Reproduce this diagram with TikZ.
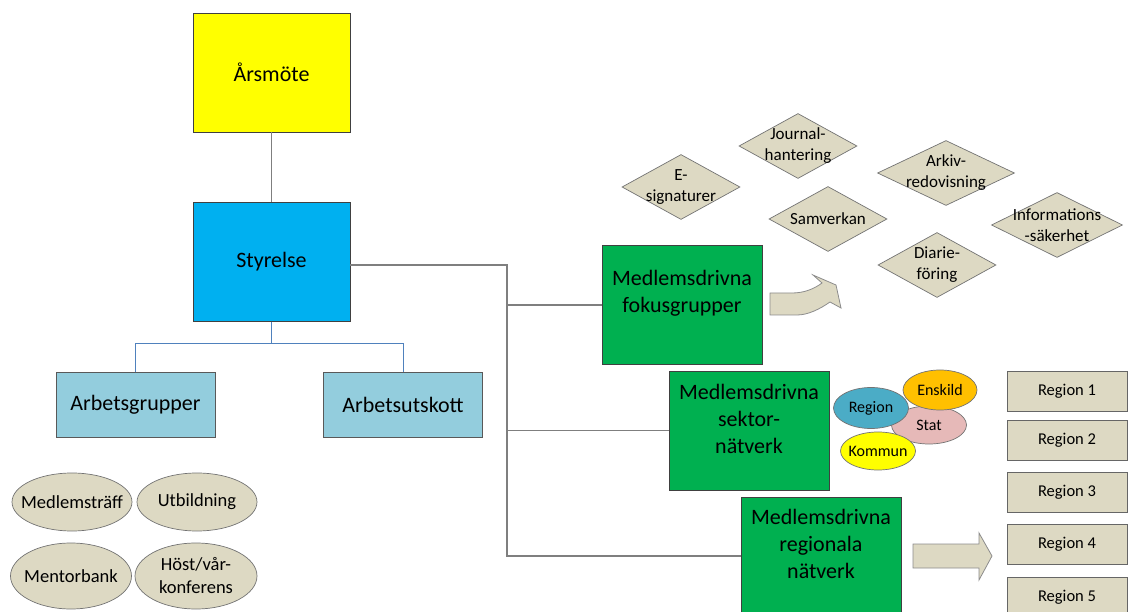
\documentclass[tikz,border=0pt]{standalone}
\usepackage{fontspec}
\setmainfont{Carlito}
\usetikzlibrary{shapes.geometric}
\definecolor{arsgul}{HTML}{FFFF00}
\definecolor{styrbla}{HTML}{00B0F0}
\definecolor{ljusbla}{HTML}{93CDDD}
\definecolor{gron}{HTML}{00B050}
\definecolor{beige}{HTML}{DDD9C3}
\definecolor{regbla}{HTML}{4BACC6}
\definecolor{orange}{HTML}{FFC000}
\definecolor{rosa}{HTML}{E6B9B8}
\definecolor{linjegra}{HTML}{7F7F7F}
\definecolor{linjebla}{HTML}{4F81BD}
\begin{document}
\begin{tikzpicture}[x=1pt, y=-1pt,
    box/.style={draw=black!75, line width=0.9pt, minimum width=157, minimum height=119, font=\fontsize{22}{27}\selectfont},
    arbbox/.style={draw=black!65, line width=0.9pt, fill=ljusbla, minimum width=159, minimum height=65, font=\fontsize{22}{26}\selectfont},
    grbox/.style={draw=black!75, line width=0.9pt, fill=gron, minimum width=160, minimum height=119},
    grtxt/.style={anchor=north, inner sep=0pt, align=center, font=\fontsize{22}{27}\selectfont},
    ruta/.style={diamond, draw=black!55, line width=0.7pt, fill=beige, inner sep=0pt, minimum height=65},
    rtxt/.style={inner sep=0pt, align=center, font=\fontsize{17}{21}\selectfont},
    oval/.style={ellipse, draw=black!55, line width=0.7pt, inner sep=0pt},
    otxt/.style={inner sep=0pt, align=center, font=\fontsize{18.5}{23}\selectfont},
    stxt/.style={inner sep=0pt, align=center, font=\fontsize{16}{20}\selectfont},
    regbox/.style={draw=black!60, line width=0.9pt, fill=beige, minimum width=120, minimum height=40, font=\fontsize{16.5}{20}\selectfont},
    pil/.style={draw=black!45, line width=0.8pt, fill=beige},
    conn/.style={draw=linjegra, line width=1.1pt},
    bconn/.style={draw=linjebla, line width=1pt}]
\useasboundingbox (0,0) rectangle (1128,612);
\clip (0,0) rectangle (1128,612);

\node[box, fill=arsgul] (arsmote) at (271.5,72.5) {Årsmöte};
\node[box, fill=styrbla] (styrelse) at (271.5,262) {Styrelse};
\node[arbbox] (arbgrp) at (135.5,404.5) {Arbetsgrupper};
\node[arbbox] (arbutsk) at (403,404.5) {Arbetsutskott};

\coordinate (spine) at (507,265);
\coordinate (gren) at (271.5,344);

\node[grbox, label={[grtxt, yshift=-25]north:Medlemsdrivna\\fokusgrupper}] (fokus) at (682,305) {};
\node[grbox, label={[grtxt, yshift=-13]north:Medlemsdrivna\\sektor-\\nätverk}] (sektor) at (749,430.5) {};
\node[grbox, minimum height=118, label={[grtxt, yshift=-12]north:Medlemsdrivna\\regionala\\nätverk}] (regnet) at (821,556) {};

\draw[conn] (arsmote) -- (styrelse);
\draw[bconn] (styrelse.south) -- (gren) -| (arbgrp.north);
\draw[bconn] (gren) -| (arbutsk.north);
\draw[conn] (styrelse.east |- spine) -- (spine) -- (spine |- regnet.west) -- (regnet.west);
\draw[conn] (spine |- fokus.west) -- (fokus.west);
\draw[conn] (spine |- sektor.west) -- (sektor.west);

\node[ruta, minimum width=118, label={[rtxt]center:E-\\signaturer}] (esign) at (681,187) {};
\node[ruta, minimum width=118, label={[rtxt]center:Journal-\\hantering}] (journal) at (798,146) {};
\node[ruta, minimum width=118, label={[rtxt]center:Samverkan}] (samverkan) at (828,219) {};
\node[ruta, minimum width=137, label={[rtxt]center:Arkiv-\\redovisning}] (arkiv) at (946,173) {};
\node[ruta, minimum width=118, label={[rtxt]center:Diarie-\\föring}] (diarie) at (937,265) {};
\node[ruta, minimum width=131, label={[rtxt]center:Informations\\-säkerhet}] (infosak) at (1057,225) {};

\draw[pil] (770,293) -- (792,293) .. controls (804,293) and (814,289) .. (822,283) -- (813,275) -- (836,285) -- (841,308) -- (830,302) .. controls (820,309) and (808,315) .. (797,315) -- (770,315) -- cycle;

\node[oval, fill=rosa, minimum width=75, minimum height=38, label={[stxt]center:Stat}] (stat) at (929,425) {};
\node[oval, fill=regbla, minimum width=75, minimum height=41, label={[stxt]center:Region}] (region) at (871,408) {};
\node[oval, fill=orange, minimum width=74, minimum height=40, label={[stxt]center:Enskild}] (enskild) at (940,390) {};
\node[oval, fill=arsgul, minimum width=75, minimum height=38, label={[stxt]center:Kommun}] (kommun) at (878,451) {};

\draw[pil] (913,544) -- (979,544) -- (979,533) -- (992,556) -- (979,580) -- (979,568) -- (913,568) -- cycle;

\node[regbox] (reg1) at (1067,391) {Region 1};
\node[regbox] (reg2) at (1067,440) {Region 2};
\node[regbox] (reg3) at (1067,492.5) {Region 3};
\node[regbox] (reg4) at (1067,544) {Region 4};
\node[regbox] (reg5) at (1067,597) {Region 5};

\node[oval, fill=beige, minimum width=120, minimum height=58, label={[otxt]center:Medlemsträff}] (medltraff) at (72,502) {};
\node[oval, fill=beige, minimum width=120, minimum height=58, label={[otxt]center:Utbildning}] (utbildning) at (197,502) {};
\node[oval, fill=beige, minimum width=121, minimum height=66, label={[otxt]center:Mentorbank}] (mentor) at (71,576) {};
\node[oval, fill=beige, minimum width=122, minimum height=66, label={[otxt]center:Höst/vår-\\konferens}] (konferens) at (196,576) {};
\end{tikzpicture}
\end{document}
